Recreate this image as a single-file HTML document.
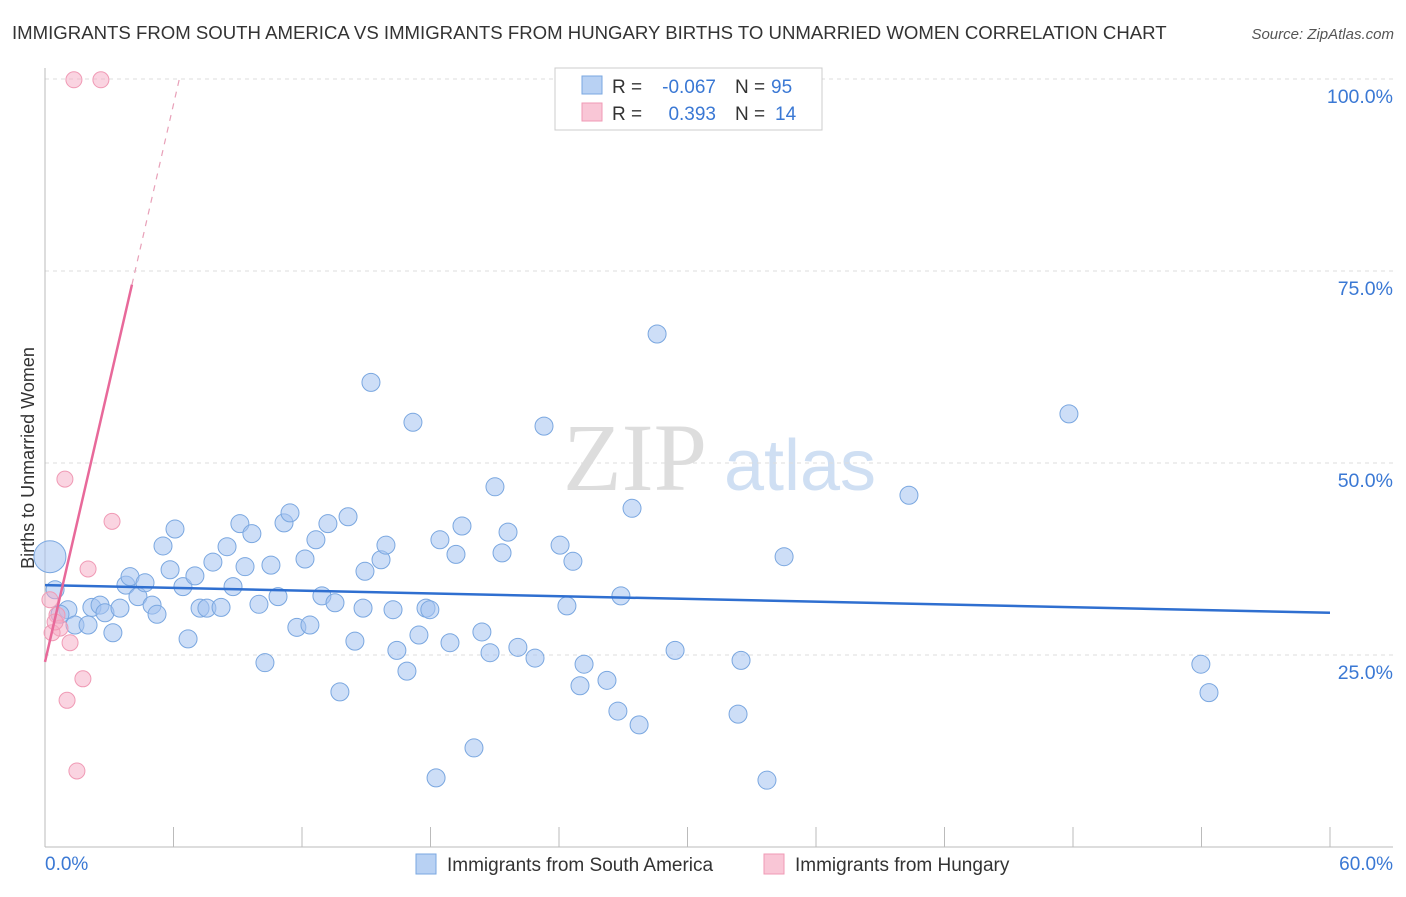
<!DOCTYPE html>
<html><head><meta charset="utf-8"><style>
body{margin:0;background:#fff;font-family:"Liberation Sans",sans-serif;}
</style></head><body>
<svg id="chart" width="1406" height="892" xmlns="http://www.w3.org/2000/svg">
<text x="12" y="39" font-size="18.6" fill="#333">IMMIGRANTS FROM SOUTH AMERICA VS IMMIGRANTS FROM HUNGARY BIRTHS TO UNMARRIED WOMEN CORRELATION CHART</text>
<text x="1394" y="39" font-size="15" fill="#555" font-style="italic" text-anchor="end">Source: ZipAtlas.com</text>
<text x="34" y="458" font-size="18" fill="#333" text-anchor="middle" transform="rotate(-90 34 458)">Births to Unmarried Women</text>
<g><text x="635" y="490" font-size="96" fill="#ddd" font-family="Liberation Serif,serif" text-anchor="middle">ZIP</text><text x="800" y="490" font-size="72" fill="#cfdff3" text-anchor="middle">atlas</text></g>
<g id="grid"></g><g id="axes"></g><g id="marks"></g>
<g>
<rect x="555" y="68" width="267" height="62" fill="#fff" stroke="#ccc"/>
<rect x="582" y="76" width="20" height="18" fill="#b8d1f3" stroke="#7aa7e0"/>
<rect x="582" y="103" width="20" height="18" fill="#f9c6d6" stroke="#f09ab5"/>
<text x="612" y="93" font-size="19" fill="#333">R =</text>
<text x="716" y="93" font-size="19" fill="#3a78d4" text-anchor="end">-0.067</text>
<text x="735" y="93" font-size="19" fill="#333">N =</text>
<text x="771" y="93" font-size="19" fill="#3a78d4">95</text>
<text x="612" y="120" font-size="19" fill="#333">R =</text>
<text x="716" y="120" font-size="19" fill="#3a78d4" text-anchor="end">0.393</text>
<text x="735" y="120" font-size="19" fill="#333">N =</text>
<text x="775" y="120" font-size="19" fill="#3a78d4">14</text>
</g>
<g>
<rect x="416" y="854" width="20" height="20" fill="#b8d1f3" stroke="#7aa7e0"/>
<text x="447" y="871" font-size="19" fill="#333">Immigrants from South America</text>
<rect x="764" y="854" width="20" height="20" fill="#f9c6d6" stroke="#f09ab5"/>
<text x="795" y="871" font-size="19" fill="#333">Immigrants from Hungary</text>
</g>
</svg>
<script>
const blueX=[0.23,0.47,1.07,0.70,1.40,2.01,2.19,2.57,2.80,3.17,3.50,3.78,3.97,4.34,4.67,5.00,5.23,5.51,5.84,6.07,6.44,6.68,7.00,7.24,7.56,7.84,8.22,8.50,8.78,9.10,9.34,9.66,9.99,10.27,10.55,10.88,11.16,11.44,11.76,12.14,12.37,12.65,12.93,13.21,13.54,13.77,14.15,14.47,14.85,14.94,15.22,15.69,15.92,16.25,16.43,16.90,17.18,17.46,17.79,17.97,18.26,18.44,18.91,19.19,19.47,20.03,20.40,20.78,21.01,21.34,21.62,22.08,22.88,23.30,24.05,24.37,24.65,24.98,25.17,26.24,26.75,26.89,27.41,27.74,28.58,29.42,32.36,32.50,33.71,34.51,40.34,47.81,53.97,54.35];
const blueY=[37.8,33.5,30.9,30.3,28.9,28.9,31.2,31.5,30.5,27.9,31.1,34.1,35.2,32.6,34.4,31.5,30.3,39.2,36.1,41.4,33.9,27.1,35.3,31.1,31.1,37.1,31.2,39.1,33.9,42.1,36.5,40.8,31.6,24.0,36.7,32.6,42.2,43.5,28.6,37.5,28.9,40.0,32.7,42.1,31.8,20.2,43.0,26.8,31.1,35.9,60.5,37.4,39.3,30.9,25.6,22.9,55.3,27.6,31.1,30.9,9.0,40.0,26.6,38.1,41.8,12.9,28.0,25.3,46.9,38.3,41.0,26.0,24.6,54.8,39.3,31.4,37.2,21.0,23.8,21.7,17.7,32.7,44.1,15.9,66.8,25.6,17.3,24.3,8.7,37.8,45.8,56.4,23.8,20.1];
const pinkX=[1.35,2.61,0.93,3.13,2.01,0.23,0.56,0.70,0.33,1.17,1.77,1.03,1.49,0.47];
const pinkY=[99.9,99.9,47.9,42.4,36.2,32.2,30.2,28.5,27.9,26.6,21.9,19.1,9.9,29.3];
const yTicks=[25,50,75,100];
const yTickLabels=["25.0%","50.0%","75.0%","100.0%"];
const xTicks=[0,6,12,18,24,30,36,42,48,54,60];
const blueTrend=[34.1,30.5];
const pinkTrend=[24.1,12.1];
const NS="http://www.w3.org/2000/svg";
const sx=v=>45+v/60*1285, sy=v=>847-v/100*768;
function mk(tag,attrs,parent){const e=document.createElementNS(NS,tag);for(const k in attrs)e.setAttribute(k,attrs[k]);document.getElementById(parent).appendChild(e);return e;}
yTicks.forEach((t,i)=>{
 const l=mk('line',{x1:45,x2:1393,y1:sy(t),y2:sy(t),stroke:'#ddd','stroke-dasharray':'4,4'},'grid');
 
 
 const tx=mk('text',{x:1393,y:sy(t)+24,'font-size':19.5,fill:'#3a78d4','text-anchor':'end'},'axes');
 tx.textContent=yTickLabels[i];
 
 
});
mk('line',{x1:45,x2:45,y1:68,y2:847,stroke:'#bbb'},'axes');
mk('line',{x1:45,x2:1393,y1:847,y2:847,stroke:'#bbb'},'axes');
xTicks.forEach(t=>{
 const l=mk('line',{x1:sx(t),x2:sx(t),y1:827,y2:847,stroke:'#bbb'},'axes');
 
 
});
const x0=mk('text',{x:45,y:870,'font-size':19,fill:'#3a78d4'},'axes');x0.textContent='0.0%';


const x1=mk('text',{x:1393,y:870,'font-size':19,fill:'#3a78d4','text-anchor':'end'},'axes');x1.textContent='60.0%';


blueX.forEach((x,i)=>{
 const c=mk('circle',{cx:sx(x),cy:sy(blueY[i]),r:i===0?16:9,fill:'rgba(164,194,240,0.55)',stroke:'#7aa7e0','stroke-width':1},'marks');
 
 
});
pinkX.forEach((x,i)=>{
 const c=mk('circle',{cx:sx(x),cy:sy(pinkY[i]),r:8,fill:'rgba(245,170,195,0.5)',stroke:'#f09ab5','stroke-width':1},'marks');
 
 
});
const bl=mk('line',{x1:sx(0),y1:sy(blueTrend[0]),x2:sx(60),y2:sy(blueTrend[1]),stroke:'#2f6fd0','stroke-width':2.5},'marks');


const pEnd=4.06, pDash=(100.5-pinkTrend[0])/pinkTrend[1];
const pl=mk('line',{x1:sx(0),y1:sy(pinkTrend[0]),x2:sx(pEnd),y2:sy(pinkTrend[0]+pinkTrend[1]*pEnd),stroke:'#e8699a','stroke-width':2.5},'marks');


const pd=mk('line',{x1:sx(pEnd),y1:sy(pinkTrend[0]+pinkTrend[1]*pEnd),x2:sx(pDash),y2:sy(pinkTrend[0]+pinkTrend[1]*pDash),stroke:'#e8a0b8','stroke-width':1.2,'stroke-dasharray':'6,6'},'marks');


</script>
</body></html>
